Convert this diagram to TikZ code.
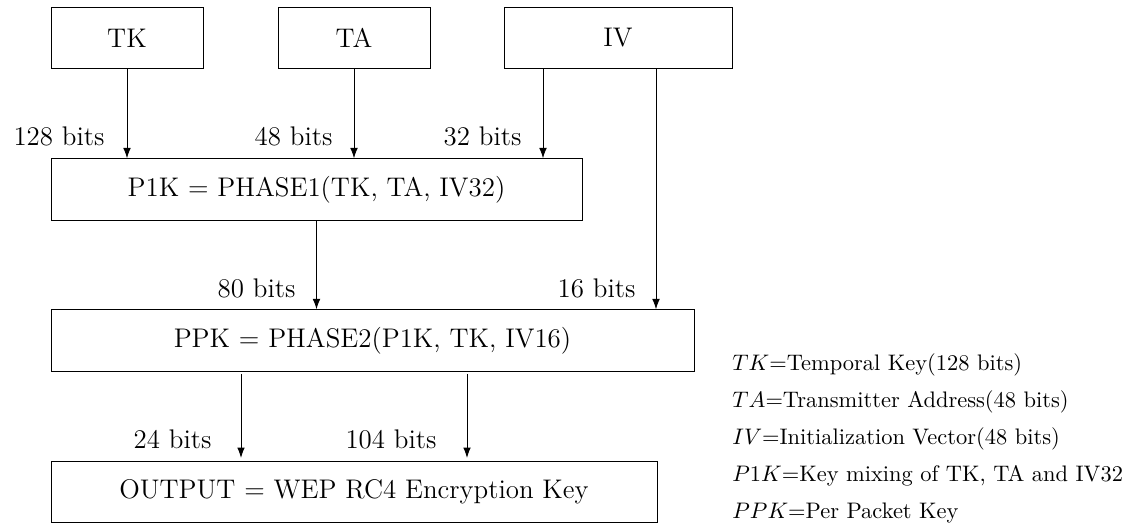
\documentclass[tikz,border=0pt]{standalone}
\usetikzlibrary{arrows.meta}
\begin{document}
\begin{tikzpicture}[x=0.4454pt,y=-0.4454pt,
  box/.style={draw, minimum height=27.39pt, inner sep=0pt, font=\large},
  lbl/.style={inner sep=0pt, anchor=east, font=\large},
  leg/.style={inner sep=0pt, anchor=base west},
  arr/.style={-{Latex[length=4.6pt,width=3.4pt]}},
  gap/.style={shorten <=1.3pt, shorten >=1.3pt}]
\useasboundingbox (0,0) rectangle (1141,526);
% boxes
\node[box, minimum width=67.70pt] (TK) at (127,38) {TK};
\node[box, minimum width=67.70pt] (TA) at (354,38) {TA};
\node[box, minimum width=101.55pt] (IV) at (618,38) {IV};
\node[box, minimum width=236.5pt] (P1K) at (316.5,189.5) {P1K = PHASE1(TK, TA, IV32)};
\node[box, minimum width=286.39pt] (PPK) at (372.5,340.5) {PPK = PHASE2(P1K, TK, IV16)};
\node[box, minimum width=269.91pt] (OUT) at (354,492) {OUTPUT = WEP RC4 Encryption Key};
% free ends
\coordinate (ivA) at (543,69);
\coordinate (ivB) at (656,69);
\coordinate (ppA) at (241,371);
\coordinate (ppB) at (467,371);
% connectors
\draw[arr] (TK.south) -- (TK.south |- P1K.north);
\draw[arr] (TA.south) -- (TA.south |- P1K.north);
\draw[arr] (ivA) -- (ivA |- P1K.north);
\draw[arr] (ivB) -- (ivB |- PPK.north);
\draw[arr] (P1K.south) -- (P1K.south |- PPK.north);
\draw[arr,gap] (ppA) -- (ppA |- OUT.north);
\draw[arr,gap] (ppB) -- (ppB |- OUT.north);
% labels
\node[lbl] (l128) at (105,136) {128 bits};
\node[lbl] (l48) at (333,136) {48 bits};
\node[lbl] (l32) at (522,136) {32 bits};
\node[lbl] (l80) at (296,288) {80 bits};
\node[lbl] (l16) at (636,288) {16 bits};
\node[lbl] (l24) at (212,439) {24 bits};
\node[lbl] (l104) at (437,439) {104 bits};
% legend
\node[leg] (g1) at (732,370) {$TK$=Temporal Key(128 bits)};
\node[leg] (g2) at (732,407) {$TA$=Transmitter Address(48 bits)};
\node[leg] (g3) at (732,444) {$IV$=Initialization Vector(48 bits)};
\node[leg] (g4) at (732,481) {$P1K$=Key mixing of TK, TA and IV32};
\node[leg] (g5) at (732,518) {$PPK$=Per Packet Key};
\end{tikzpicture}
\end{document}
